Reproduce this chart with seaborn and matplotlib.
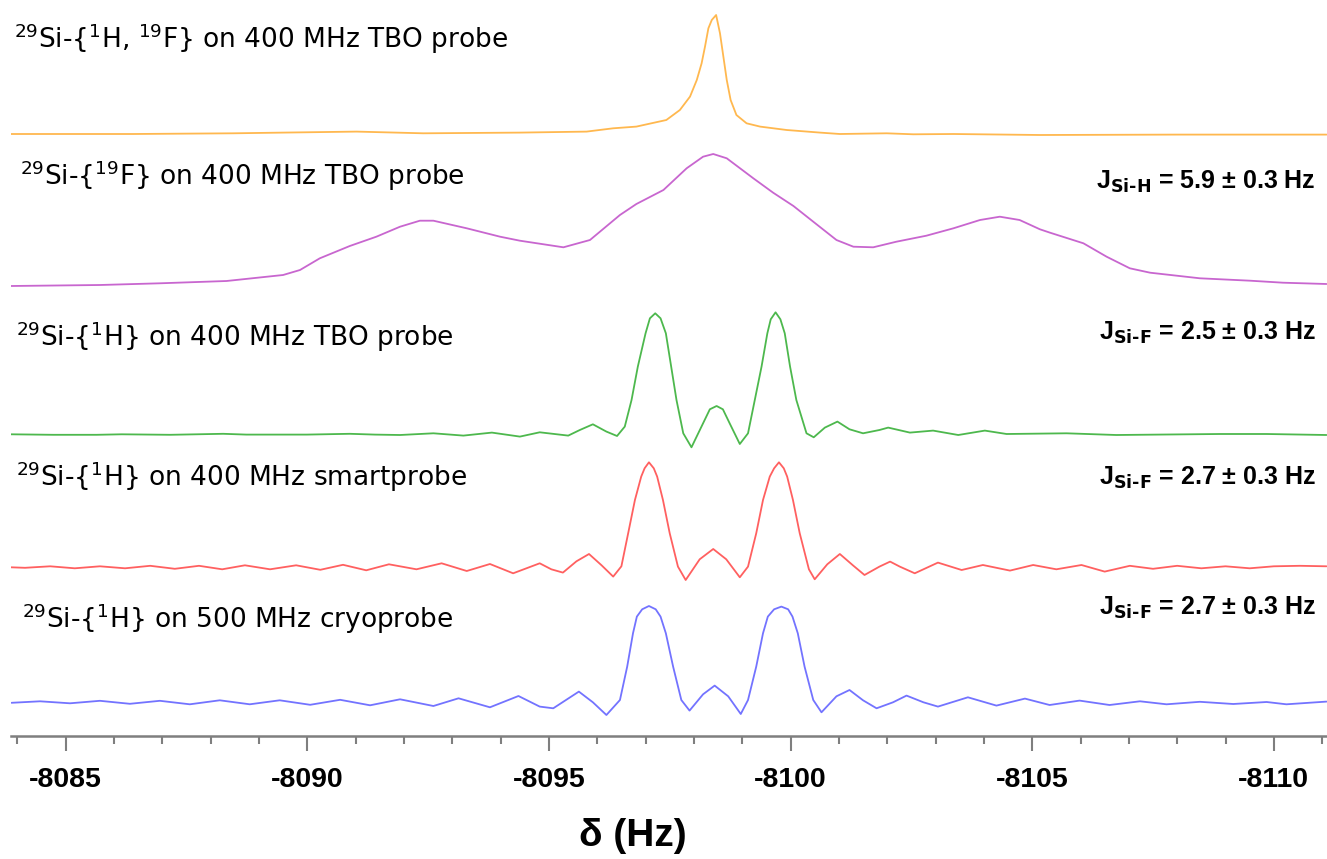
import numpy as np
import pandas as pd
import seaborn as sns
import matplotlib
matplotlib.use("Agg")
import matplotlib.pyplot as plt
from matplotlib.ticker import MultipleLocator, FuncFormatter

# ---------------- data (frequency in Hz, intensity in arbitrary units above each baseline) ----
yellow_hz = [-8083.87, -8086.40, -8088.47, -8089.50, -8091.02, -8092.40, -8094.40, -8095.78,
             -8096.33, -8096.81, -8097.43, -8097.71, -8097.92, -8098.06, -8098.16, -8098.23,
             -8098.30, -8098.37, -8098.46, -8098.54, -8098.61, -8098.68, -8098.76, -8098.88,
             -8099.09, -8099.37, -8099.92, -8100.61, -8101.02, -8101.99, -8102.54, -8103.37,
             -8105.16, -8108.00, -8111.09]
yellow_int = [-0.7, -0.7, 0.0, 0.7, 1.7, 0.0, 0.7, 1.7,
              5.0, 6.7, 13.3, 23.3, 36.7, 53.3, 70.0, 86.7,
              105.0, 113.3, 118.3, 100.0, 76.7, 53.3, 33.3, 18.3,
              10.0, 6.7, 3.3, 0.7, -0.7, 0.0, -1.0, -0.7,
              -1.7, -1.3, -1.3]

purple_hz = [-8083.87, -8085.71, -8086.95, -8088.33, -8089.50, -8089.85, -8090.26, -8090.88,
             -8091.43, -8091.92, -8092.33, -8092.61, -8093.30, -8093.99, -8094.40, -8095.30,
             -8095.85, -8096.47, -8096.81, -8097.37, -8097.85, -8098.19, -8098.40, -8098.68,
             -8099.23, -8099.64, -8100.06, -8100.47, -8100.95, -8101.30, -8101.71, -8102.19,
             -8102.81, -8103.37, -8103.92, -8104.33, -8104.74, -8105.16, -8105.37, -8106.06,
             -8106.54, -8107.02, -8107.44, -8108.47, -8109.51, -8110.19, -8111.09]
purple_int = [0.0, 1.0, 2.7, 5.0, 11.0, 16.0, 27.7, 40.0,
              49.3, 59.3, 65.3, 65.3, 57.7, 49.3, 45.3, 38.7,
              46.0, 71.0, 82.0, 96.0, 117.7, 129.3, 132.0, 127.7,
              107.7, 93.3, 80.0, 64.3, 46.0, 39.3, 38.7, 44.3,
              50.3, 57.7, 66.0, 69.3, 66.0, 56.7, 53.3, 42.7,
              29.3, 17.7, 13.3, 7.7, 5.3, 3.3, 2.0]

green_hz = [-8083.87, -8084.74, -8085.64, -8086.16, -8087.16, -8088.26, -8088.74, -8089.36,
            -8089.99, -8090.88, -8091.40, -8091.92, -8092.61, -8093.23, -8093.82, -8094.40,
            -8094.81, -8095.40, -8095.64, -8095.91, -8096.19, -8096.41, -8096.57, -8096.71,
            -8096.84, -8097.00, -8097.09, -8097.20, -8097.31, -8097.42, -8097.53, -8097.64,
            -8097.78, -8097.95, -8098.19, -8098.33, -8098.47, -8098.60, -8098.74, -8098.95,
            -8099.12, -8099.26, -8099.40, -8099.52, -8099.59, -8099.69, -8099.79, -8099.88,
            -8099.99, -8100.12, -8100.33, -8100.48, -8100.71, -8100.97, -8101.22, -8101.50,
            -8101.84, -8102.02, -8102.47, -8102.95, -8103.47, -8104.02, -8104.47, -8105.71,
            -8106.74, -8108.88, -8109.85, -8111.09]
green_int = [0.0, -0.5, -0.5, 0.0, -0.5, 0.5, -0.3, -0.3,
             -0.3, 0.5, -0.3, -0.7, 1.0, -1.3, 1.7, -2.3,
             2.0, -1.3, 4.3, 10.0, 2.7, -1.7, 7.7, 34.3,
             67.7, 101.0, 116.0, 121.0, 116.0, 101.0, 67.7, 34.3,
             1.0, -13.0, 11.0, 25.0, 28.3, 25.0, 11.0, -9.7,
             1.0, 34.3, 67.7, 101.0, 115.0, 122.0, 115.0, 101.0,
             67.7, 34.3, 1.0, -3.0, 6.7, 12.7, 5.0, 1.0,
             4.3, 6.7, 1.7, 3.7, -0.7, 3.7, 0.3, 1.0,
             -0.7, 0.3, 0.3, -0.7]

red_hz = [-8083.87, -8084.16, -8084.68, -8085.19, -8085.71, -8086.23, -8086.75, -8087.26,
          -8087.76, -8088.24, -8088.71, -8089.23, -8089.77, -8090.27, -8090.74, -8091.22,
          -8091.69, -8092.26, -8092.78, -8093.30, -8093.78, -8094.26, -8094.81, -8095.05,
          -8095.29, -8095.57, -8095.83, -8096.09, -8096.33, -8096.50, -8096.64, -8096.78,
          -8096.91, -8096.98, -8097.07, -8097.17, -8097.24, -8097.36, -8097.50, -8097.67,
          -8097.83, -8098.12, -8098.40, -8098.67, -8098.95, -8099.12, -8099.29, -8099.43,
          -8099.57, -8099.66, -8099.76, -8099.86, -8099.93, -8100.05, -8100.19, -8100.38,
          -8100.50, -8100.76, -8101.02, -8101.29, -8101.53, -8101.84, -8102.06, -8102.26,
          -8102.57, -8103.05, -8103.54, -8103.98, -8104.54, -8105.02, -8105.50, -8106.02,
          -8106.50, -8107.02, -8107.50, -8108.00, -8108.50, -8109.00, -8109.50, -8110.00,
          -8110.54, -8111.09]
red_int = [0.0, -0.5, 1.0, -1.0, 1.0, -1.0, 1.5, -1.5,
           1.5, -2.0, 2.0, -2.0, 2.0, -2.5, 2.5, -3.0,
           3.0, -2.0, 4.0, -3.7, 3.3, -6.0, 4.0, -2.0,
           -5.3, 6.0, 13.3, 2.0, -9.3, 1.0, 34.0, 67.3,
           90.7, 99.0, 105.0, 99.0, 90.7, 67.3, 34.0, 0.7,
           -12.7, 8.0, 18.3, 8.0, -10.0, 0.7, 34.0, 67.3,
           90.7, 99.0, 105.0, 99.0, 90.7, 67.3, 34.0, -2.0,
           -12.0, 3.0, 13.3, 2.0, -7.7, 0.7, 5.7, 0.7,
           -6.0, 4.7, -2.7, 2.3, -3.3, 2.3, -2.0, 2.3,
           -4.3, 1.5, -1.5, 1.5, -1.0, 1.0, -1.0, 1.0,
           1.5, 1.0]

blue_hz = [-8083.88, -8084.47, -8085.09, -8085.71, -8086.33, -8086.95, -8087.57, -8088.19,
           -8088.81, -8089.43, -8090.06, -8090.68, -8091.30, -8091.92, -8092.61, -8093.13,
           -8093.78, -8094.37, -8094.81, -8095.09, -8095.62, -8095.91, -8096.19, -8096.47,
           -8096.62, -8096.74, -8096.82, -8096.93, -8097.07, -8097.21, -8097.31, -8097.42,
           -8097.57, -8097.74, -8097.91, -8098.19, -8098.43, -8098.71, -8098.97, -8099.12,
           -8099.29, -8099.43, -8099.53, -8099.66, -8099.81, -8099.95, -8100.04, -8100.15,
           -8100.29, -8100.47, -8100.64, -8100.95, -8101.22, -8101.50, -8101.78, -8102.12,
           -8102.40, -8102.75, -8103.05, -8103.67, -8104.26, -8104.85, -8105.36, -8105.98,
           -8106.60, -8107.23, -8107.78, -8108.47, -8109.16, -8109.85, -8110.26, -8111.09]
blue_int = [-0.5, 1.0, -1.0, 1.5, -1.5, 1.5, -2.0, 2.0,
            -2.0, 2.0, -2.5, 2.5, -3.0, 3.0, -3.7, 4.0,
            -5.0, 6.3, -4.3, -6.0, 10.7, 0.0, -12.7, 2.3,
            35.7, 69.0, 85.7, 93.0, 96.3, 93.0, 85.7, 69.0,
            35.7, 2.3, -8.3, 8.0, 16.7, 6.0, -11.7, 2.3,
            35.7, 69.0, 85.7, 93.0, 95.7, 93.0, 85.7, 69.0,
            35.7, 2.3, -10.0, 6.0, 12.3, 2.0, -6.0, 0.0,
            6.7, 0.0, -4.3, 5.0, -3.3, 3.7, -2.7, 1.7,
            -2.7, 1.0, -2.0, 0.5, -1.7, 0.3, -2.0, 0.7]

series_names = ["H+F decoupled 400 TBO", "F decoupled 400 TBO", "H decoupled 400 TBO",
                "H decoupled 400 smartprobe", "H decoupled 500 cryoprobe"]
series_hz = [yellow_hz, purple_hz, green_hz, red_hz, blue_hz]
series_int = [yellow_int, purple_int, green_int, red_int, blue_int]

HY = "\u2010"
left_labels = [r"$^{29}$Si-{$^{1}$H, $^{19}$F} on 400 MHz TBO probe",
               r"$^{29}$Si-{$^{19}$F} on 400 MHz TBO probe",
               r"$^{29}$Si-{$^{1}$H} on 400 MHz TBO probe",
               r"$^{29}$Si-{$^{1}$H} on 400 MHz smartprobe",
               r"$^{29}$Si-{$^{1}$H} on 500 MHz cryoprobe"]
j_labels = ["J$_{\\mathbf{Si" + HY + "H}}$ = 5.9 ± 0.3 Hz",
            "J$_{\\mathbf{Si" + HY + "F}}$ = 2.5 ± 0.3 Hz",
            "J$_{\\mathbf{Si" + HY + "F}}$ = 2.7 ± 0.3 Hz",
            "J$_{\\mathbf{Si" + HY + "F}}$ = 2.7 ± 0.3 Hz"]
x_label = "δ (Hz)"

# ---------------- layout / style ----------------
W, H = 1327, 859
AX_LEFT_PX, AX_BOTTOM_PX = 11, 736
offsets = [602.7, 450.0, 301.7, 168.7, 33.7]          # vertical stacking (px above axis line)
colors = ["#ffb84f", "#c866cf", "#4db84d", "#ff6060", "#7373ff"]
left_pos = [(14, 48), (20, 185), (16, 346.5), (16, 486), (22, 627.5)]
j_pos = [(1316, 188.5), (1316, 340), (1316, 485), (1316, 615)]

sns.set_style("white")
plt.rcParams["font.family"] = ["DejaVu Sans"]
plt.rcParams["mathtext.fontset"] = "dejavusans"
plt.rcParams["axes.unicode_minus"] = False
plt.rcParams["text.color"] = "black"
plt.rcParams["axes.labelcolor"] = "black"
plt.rcParams["xtick.labelcolor"] = "black"

frames = []
for name, hz, inten, off in zip(series_names, series_hz, series_int, offsets):
    frames.append(pd.DataFrame({"hz": hz, "y": np.asarray(inten) + off, "series": name}))
df = pd.concat(frames, ignore_index=True)

fig = plt.figure(figsize=(W / 100, H / 100), dpi=100)
ax = fig.add_axes([AX_LEFT_PX / W, (H - AX_BOTTOM_PX) / H, 1 - AX_LEFT_PX / W, AX_BOTTOM_PX / H])

sns.lineplot(data=df, x="hz", y="y", hue="series", hue_order=series_names,
             palette=dict(zip(series_names, colors)), estimator=None, legend=False,
             linewidth=1.3, ax=ax)
for ln in ax.get_lines():
    ln.set_solid_joinstyle("round")

ax.set_xlim(-8083.87, -8111.10)
ax.set_ylim(0, AX_BOTTOM_PX)
ax.set_ylabel("")
ax.set_yticks([])
for s in ["left", "right", "top"]:
    ax.spines[s].set_visible(False)
ax.spines["bottom"].set_color("#7f7f7f")
ax.spines["bottom"].set_linewidth(1.8)

ax.xaxis.set_major_locator(MultipleLocator(5))
ax.xaxis.set_minor_locator(MultipleLocator(1))
ax.xaxis.set_major_formatter(FuncFormatter(lambda v, p: f"{v:.0f}"))
ax.tick_params(axis="x", which="major", direction="out", length=11, width=1.5,
               color="#7f7f7f", labelcolor="black", labelsize=20.5, pad=11, bottom=True)
ax.tick_params(axis="x", which="minor", direction="out", length=5.5, width=1.5,
               color="#7f7f7f", bottom=True)
for lbl in ax.get_xticklabels():
    lbl.set_fontweight("bold")
    lbl.set_fontfamily("Liberation Sans")

ax.set_xlabel(x_label, fontsize=28, fontweight="bold", fontfamily="Liberation Sans", color="black")
ax.xaxis.set_label_coords((633 - AX_LEFT_PX) / (W - AX_LEFT_PX), (AX_BOTTOM_PX - 836) / AX_BOTTOM_PX)
ax.xaxis.label.set_va("center")

for txt, (px, py) in zip(left_labels, left_pos):
    fig.text(px / W, 1 - py / H, txt, ha="left", va="baseline", fontsize=19, color="black")
for txt, (px, py) in zip(j_labels, j_pos):
    fig.text(px / W, 1 - py / H, txt, ha="right", va="baseline", fontsize=18,
             fontweight="bold", fontfamily="Liberation Sans", color="black")

fig.savefig("out.png", dpi=100, facecolor="white")
